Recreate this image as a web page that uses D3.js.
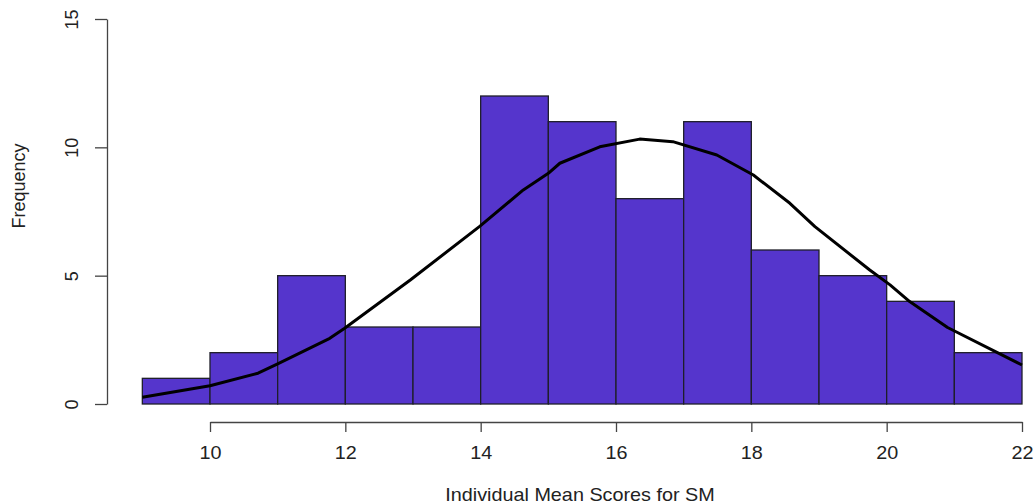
<!DOCTYPE html>
<html>
<head>
<meta charset="utf-8">
<script src="https://cdn.jsdelivr.net/npm/d3@7"></script>
<style>
  body { margin: 0; background: #fff; }
  svg text { font-family: "Liberation Sans", Arial, sans-serif; fill: #222; }
</style>
</head>
<body>
<svg id="chart" width="1036" height="504"></svg>
<script>
// histogram bins (score ranges) and counts
const binStarts = [9, 10, 11, 12, 13, 14, 15, 16, 17, 18, 19, 20, 21];
const counts = [1, 2, 5, 3, 3, 12, 11, 8, 11, 6, 5, 4, 2];

// overlaid density curve
const curveX = [9.0, 10.0, 10.71, 11.0, 11.77, 11.99, 12.96, 13.99, 14.63, 15.0, 15.17, 15.76,
  16.35, 16.84, 17.49, 18.03, 18.57, 18.94, 19.75, 20.05, 20.34, 20.9, 22.0];
const curveY = [0.26, 0.71, 1.2, 1.56, 2.56, 2.95, 4.83, 6.93, 8.34, 8.99, 9.38, 10.02,
  10.32, 10.22, 9.7, 8.92, 7.82, 6.91, 5.22, 4.64, 3.99, 2.98, 1.52];

const xTicks = [10, 12, 14, 16, 18, 20, 22];
const yTicks = [0, 5, 10, 15];

const svg = d3.select('#chart');
const fontSize = 18;
const stretch = 'scale(1.1,1)';

const x = d3.scaleLinear().domain([10, 22]).range([210, 1022]);
const y = d3.scaleLinear().domain([0, 15]).range([404, 19]);

/* bars */
svg.append('g')
  .selectAll('rect')
  .data(counts)
  .join('rect')
  .attr('x', (d, i) => x(binStarts[i]))
  .attr('y', d => y(d))
  .attr('width', (d, i) => x(binStarts[i] + 1) - x(binStarts[i]))
  .attr('height', d => y(0) - y(d))
  .attr('fill', '#5535cc')
  .attr('stroke', '#1f1f2a')
  .attr('stroke-width', 1.3);

/* curve */
const line = d3.line()
  .x(d => x(d[0]))
  .y(d => y(d[1]));

svg.append('path')
  .datum(curveX.map((v, i) => [v, curveY[i]]))
  .attr('d', line)
  .attr('fill', 'none')
  .attr('stroke', '#000')
  .attr('stroke-width', 3)
  .attr('stroke-linejoin', 'round');

/* x axis */
const xAxis = svg.append('g')
  .attr('transform', 'translate(0,422)')
  .call(d3.axisBottom(x).tickValues(xTicks).tickSize(10).tickPadding(14.5).tickSizeOuter(0));
xAxis.select('.domain').attr('stroke', '#444').attr('stroke-width', 1.3);
xAxis.selectAll('.tick line').attr('stroke', '#444').attr('stroke-width', 1.3);
xAxis.selectAll('text')
  .attr('font-size', fontSize)
  .attr('fill', '#222')
  .attr('transform', stretch);

/* y axis */
const yAxis = svg.append('g')
  .attr('transform', 'translate(107,0)')
  .call(d3.axisLeft(y).tickValues(yTicks).tickSize(12).tickSizeOuter(0).tickPadding(0));
yAxis.select('.domain').attr('stroke', '#444').attr('stroke-width', 1.3);
yAxis.selectAll('.tick line').attr('stroke', '#444').attr('stroke-width', 1.3);
yAxis.selectAll('text')
  .attr('font-size', fontSize)
  .attr('fill', '#222')
  .attr('x', 0)
  .attr('dy', 0)
  .attr('text-anchor', 'middle')
  .attr('transform', 'translate(-29,0) rotate(-90)');

/* axis titles */
svg.append('text')
  .attr('transform', `translate(580,501) ${stretch}`)
  .attr('text-anchor', 'middle')
  .attr('font-size', fontSize)
  .text('Individual Mean Scores for SM');

svg.append('text')
  .attr('transform', 'translate(24.5,186) rotate(-90)')
  .attr('text-anchor', 'middle')
  .attr('font-size', fontSize)
  .text('Frequency');
</script>
</body>
</html>
